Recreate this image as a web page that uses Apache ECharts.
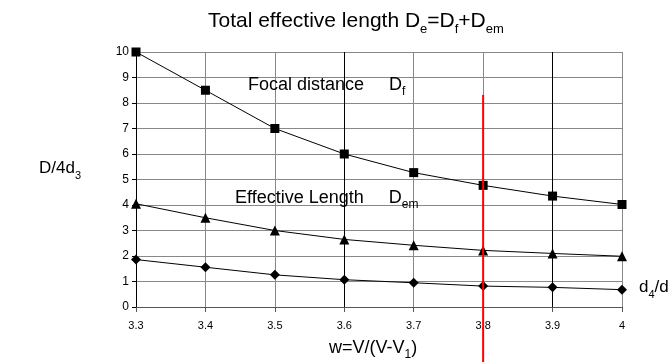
<!DOCTYPE html>
<html>
<head>
<meta charset="utf-8">
<script src="https://cdn.jsdelivr.net/npm/echarts@6/dist/echarts.min.js"></script>
<style>html,body{margin:0;padding:0;background:#fff;}#c{width:671px;height:362px;}</style>
</head>
<body>
<div id="c"></div>
<script>
var categories = ['3.3', '3.4', '3.5', '3.6', '3.7', '3.8', '3.9', '4'];
var focalDistance = [10, 8.5, 7.0, 6.0, 5.27, 4.77, 4.35, 4.02];
var effectiveLength = [4.05, 3.5, 3.0, 2.65, 2.42, 2.22, 2.1, 1.99];
var ratioD4D = [1.86, 1.56, 1.26, 1.07, 0.95, 0.82, 0.77, 0.68];
var markerLine = [['3.8', 8.31], ['3.8', -2.3]];
var yTicks = [0, 10, 1];

var FONT = '"Liberation Sans", Arial, sans-serif';
var chart = echarts.init(document.getElementById('c'));

function rt(text, x, y, big, small, drop) {
  return {
    type: 'text', left: x, top: y, z: 50,
    style: {
      text: text,
      fontFamily: FONT,
      fill: '#000',
      rich: {
        a: {fontSize: big, fontFamily: FONT, color: '#000', lineHeight: big, padding: [0, 0, drop, 0], verticalAlign: 'bottom'},
        s: {fontSize: small, fontFamily: FONT, color: '#000', lineHeight: small, verticalAlign: 'bottom'}
      }
    }
  };
}

var option = {
  animation: false,
  backgroundColor: '#fff',
  grid: {left: 136, right: 49, top: 52, bottom: 55},
  xAxis: {
    type: 'category',
    data: categories,
    boundaryGap: false,
    axisLine: {show: true, lineStyle: {color: '#555', width: 1}},
    axisTick: {show: true, length: 5, lineStyle: {color: '#555'}},
    axisLabel: {fontSize: 11, color: '#000', fontFamily: FONT, margin: 13},
    splitLine: {show: true, lineStyle: {color: ['#000', '#888', '#888', '#000', '#888', '#888', '#000', '#888'], width: 1}}
  },
  yAxis: {
    type: 'value',
    min: yTicks[0], max: yTicks[1], interval: yTicks[2],
    axisLine: {show: true, lineStyle: {color: '#000', width: 1}},
    axisTick: {show: true, length: 4, lineStyle: {color: '#000'}},
    axisLabel: {fontSize: 12, color: '#000', fontFamily: FONT, margin: 7},
    splitLine: {show: true, lineStyle: {color: '#888', width: 1}}
  },
  series: [
    {type: 'line', data: focalDistance, symbol: 'rect', symbolSize: 9,
     lineStyle: {color: '#000', width: 1}, itemStyle: {color: '#000'}, z: 5},
    {type: 'line', data: effectiveLength, symbol: 'triangle', symbolSize: 10,
     lineStyle: {color: '#000', width: 1}, itemStyle: {color: '#000'}, z: 5},
    {type: 'line', data: ratioD4D, symbol: 'diamond', symbolSize: 10,
     lineStyle: {color: '#000', width: 1}, itemStyle: {color: '#000'}, z: 5},
    {type: 'line', data: markerLine, symbol: 'none', clip: false,
     lineStyle: {color: '#ff0000', width: 2}, z: 6}
  ],
  graphic: [
    rt('{a|Total effective length D}{s|e}{a|=D}{s|f}{a|+D}{s|em}', 208, 11, 21, 13, 4),
    rt('{a|Focal distance     D}{s|f}', 248, 76, 18, 12, 4),
    rt('{a|Effective Length     D}{s|em}', 235, 189, 18, 12, 4),
    rt('{a|D/4d}{s|3}', 39, 160, 17, 11, 4),
    rt('{a|w=V/(V-V}{s|1}{a|)}', 329, 339, 18, 12, 4),
    rt('{a|d}{s|4}{a|/d}', 639, 279, 17, 11, 4)
  ]
};
chart.setOption(option);
</script>
</body>
</html>
